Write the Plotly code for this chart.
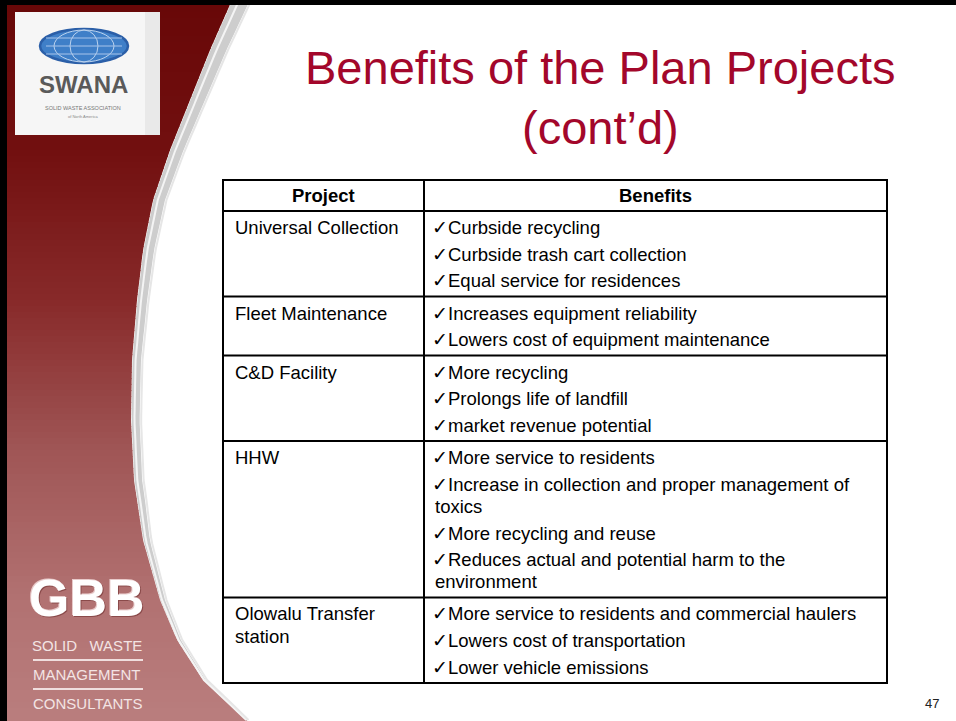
import numpy as np
import plotly.graph_objects as go

# ---------------- data ----------------
title_lines = ["Benefits of the Plan Projects", "(cont’d)"]
headers = ["Project", "Benefits"]
projects = [
    ["Universal Collection"],
    ["Fleet Maintenance"],
    ["C&D Facility"],
    ["HHW"],
    ["Olowalu Transfer", "station"],
]
benefits = [
    [["Curbside recycling"], ["Curbside trash cart collection"], ["Equal service for residences"]],
    [["Increases equipment reliability"], ["Lowers cost of equipment maintenance"]],
    [["More recycling"], ["Prolongs life of landfill"], ["market revenue potential"]],
    [["More service to residents"],
     ["Increase in collection and proper management of", "toxics"],
     ["More recycling and reuse"],
     ["Reduces actual and potential harm to the", "environment"]],
    [["More service to residents and commercial haulers"], ["Lowers cost of transportation"],
     ["Lower vehicle emissions"]],
]
page_number = "47"
gbb_lines = ["SOLID   WASTE", "MANAGEMENT", "CONSULTANTS"]

# ---------------- layout constants ----------------
W, H = 956, 721
FONT = "Liberation Sans, Arial, Helvetica, sans-serif"
X0, X1, X2 = 223, 424, 887
TOP, HEAD_H = 180, 31
BULLET, WRAP, PAD, FIRST = 26.7, 22.0, 5.5, 16.5

shapes = []
ann = []

# ---- left decorative panel (gradient strips with curved edge) ----
ey = [0, 50, 100, 150, 200, 250, 300, 360, 420, 480, 540, 600, 640, 680, 721]
ex = [232, 210, 190, 170, 153, 143, 137, 132, 131, 134, 143, 160, 177, 203, 247]
cy = [0, 150, 300, 450, 600, 721]
cc = np.array([(104, 8, 8), (114, 16, 16), (136, 42, 42), (160, 86, 86), (178, 114, 114), (186, 126, 126)])


def edge(y):
    return float(np.interp(y, ey, ex))


def col(y):
    r, g, b = (np.interp(y, cy, cc[:, k]) for k in range(3))
    return f"rgb({int(r)},{int(g)},{int(b)})"


step = 6
for y0 in range(0, H, step):
    y1 = min(H, y0 + step + 0.8)
    shapes.append(dict(type="path", xref="x", yref="y", layer="below",
                       path=f"M 0,{y0} L {edge(y0):.1f},{y0} L {edge(y1):.1f},{y1} L 0,{y1} Z",
                       fillcolor=col(y0 + step / 2), line=dict(width=0)))

# swoosh band
sw_y = [0, 100, 200, 360, 500, 600, 700, 721]
sw_w = [18, 15, 12, 9, 8, 5, 2, 1]
ys = np.arange(0, H + 1, 8)
outer = [(edge(y) + np.interp(y, sw_y, sw_w), y) for y in ys]
inner = [(edge(y) + 0.5, y) for y in ys]
p = "M " + " L ".join(f"{x:.1f},{y}" for x, y in inner) + " L " + \
    " L ".join(f"{x:.1f},{y}" for x, y in outer[::-1]) + " Z"
shapes.append(dict(type="path", xref="x", yref="y", layer="below", path=p,
                   fillcolor="#cdcdcd", line=dict(width=0)))
mid = [(edge(y) + 0.4 * np.interp(y, sw_y, sw_w), y) for y in ys]
shapes.append(dict(type="path", xref="x", yref="y", layer="below",
                   path="M " + " L ".join(f"{x:.1f},{y}" for x, y in mid),
                   line=dict(color="#f4f4f4", width=2)))
out2 = [(edge(y) + np.interp(y, sw_y, sw_w) + 1.5, y) for y in ys]
shapes.append(dict(type="path", xref="x", yref="y", layer="below",
                   path="M " + " L ".join(f"{x:.1f},{y}" for x, y in out2),
                   line=dict(color="#e6e6e6", width=2)))

# black frame (left and top)
shapes.append(dict(type="rect", xref="x", yref="y", x0=0, x1=7, y0=0, y1=H,
                   fillcolor="black", line=dict(width=0), layer="below"))
shapes.append(dict(type="rect", xref="x", yref="y", x0=0, x1=W, y0=0, y1=5,
                   fillcolor="black", line=dict(width=0), layer="below"))

# ---- SWANA logo ----
shapes.append(dict(type="rect", xref="x", yref="y", x0=15, x1=160, y0=12, y1=135,
                   fillcolor="#f6f6f6", line=dict(width=0), layer="below"))
shapes.append(dict(type="rect", xref="x", yref="y", x0=145, x1=160, y0=12, y1=135,
                   fillcolor="#e9e9e9", line=dict(width=0), layer="below"))
shapes.append(dict(type="circle", xref="x", yref="y", x0=40, x1=128, y0=29, y1=63,
                   fillcolor="#3f7fc8", line=dict(color="#2b5fa8", width=2.5), layer="below"))
for rx in (30, 14):
    shapes.append(dict(type="circle", xref="x", yref="y", x0=84 - rx, x1=84 + rx, y0=30, y1=62,
                       fillcolor="rgba(0,0,0,0)", line=dict(color="#bcd3ee", width=1), layer="below"))
for yy in (38, 46, 54):
    shapes.append(dict(type="line", xref="x", yref="y", x0=46, x1=122, y0=yy, y1=yy,
                       line=dict(color="#a9c5ea", width=1), layer="below"))
ann.append(dict(x=83, y=84, text="<b>SWANA</b>", showarrow=False, xanchor="center", yanchor="middle",
                font=dict(family="Liberation Sans Narrow, Arial Narrow, " + FONT,
                          size=24, color="#5a5a5a")))
ann.append(dict(x=83, y=108, text="SOLID WASTE ASSOCIATION", showarrow=False, xanchor="center",
                yanchor="middle", font=dict(family=FONT, size=5.5, color="#777")))
ann.append(dict(x=83, y=116, text="of North America", showarrow=False, xanchor="center",
                yanchor="middle", font=dict(family=FONT, size=4, color="#888")))

# ---- GBB logo ----
ann.append(dict(x=87, y=598, text="<b>GBB</b>", showarrow=False, xanchor="center", yanchor="middle",
                font=dict(family="Liberation Sans, Arial Black, sans-serif", size=52, color="white",
                          shadow="1px 1px 0 #8a4a4a, -1px -1px 0 #e8caca")))
for i, t in enumerate(gbb_lines):
    ann.append(dict(x=87, y=645 + i * 29, text=t, showarrow=False, xanchor="center", yanchor="middle",
                    font=dict(family="Liberation Sans Narrow, " + FONT, size=15, color="#f3e4e4")))
for yy in (660, 689):
    shapes.append(dict(type="line", xref="x", yref="y", x0=33, x1=143, y0=yy, y1=yy,
                       line=dict(color="#f0dede", width=2)))

# ---- title ----
for i, t in enumerate(title_lines):
    ann.append(dict(x=600, y=67 + i * 60, text=t, showarrow=False, xanchor="center", yanchor="middle",
                    font=dict(family=FONT, size=47, color="#A3072B")))

# ---- table ----
row_h = [PAD + BULLET * len(b) + WRAP * sum(len(l) - 1 for l in b) for b in benefits]
bounds = [TOP, TOP + HEAD_H]
for h in row_h:
    bounds.append(bounds[-1] + h)

LW = 2
shapes.append(dict(type="rect", xref="x", yref="y", x0=X0, x1=X2, y0=bounds[0], y1=bounds[-1],
                   fillcolor="white", line=dict(color="black", width=LW), layer="below"))
shapes.append(dict(type="line", xref="x", yref="y", x0=X1, x1=X1, y0=bounds[0], y1=bounds[-1],
                   line=dict(color="black", width=LW)))
for b in bounds[1:-1]:
    shapes.append(dict(type="line", xref="x", yref="y", x0=X0, x1=X2, y0=b, y1=b,
                       line=dict(color="black", width=LW)))

tf = dict(family=FONT, size=18.5, color="black")
ann.append(dict(x=(X0 + X1) / 2, y=TOP + HEAD_H / 2, text=f"<b>{headers[0]}</b>", showarrow=False,
                xanchor="center", yanchor="middle", font=tf))
ann.append(dict(x=(X1 + X2) / 2, y=TOP + HEAD_H / 2, text=f"<b>{headers[1]}</b>", showarrow=False,
                xanchor="center", yanchor="middle", font=tf))

for r, (proj, bens) in enumerate(zip(projects, benefits)):
    top = bounds[r + 1]
    for k, line in enumerate(proj):
        ann.append(dict(x=X0 + 10, y=top + FIRST + 23 * k, text=line, showarrow=False,
                        xanchor="left", yanchor="middle", font=tf))
    y = top + FIRST
    for bullet in bens:
        for j, line in enumerate(bullet):
            if j > 0:
                y += WRAP
                ann.append(dict(x=X1 + 9, y=y, text=line, showarrow=False,
                                xanchor="left", yanchor="middle", font=tf))
            else:
                ann.append(dict(x=X1 + 6, y=y, text="✓" + line, showarrow=False,
                                xanchor="left", yanchor="middle", font=tf))
        y += BULLET

# page number
ann.append(dict(x=932, y=703, text=page_number, showarrow=False, xanchor="center", yanchor="middle",
                font=dict(family=FONT, size=13, color="#222")))

fig = go.Figure()
fig.update_layout(
    width=W, height=H, margin=dict(l=0, r=0, t=0, b=0),
    paper_bgcolor="white", plot_bgcolor="white", showlegend=False,
    xaxis=dict(range=[0, W], visible=False, fixedrange=True),
    yaxis=dict(range=[H, 0], visible=False, fixedrange=True),
    shapes=shapes, annotations=ann,
)
fig.write_html("out.html", config=dict(displayModeBar=False),
               post_script="document.body.style.margin='0';document.body.style.overflow='hidden';")
